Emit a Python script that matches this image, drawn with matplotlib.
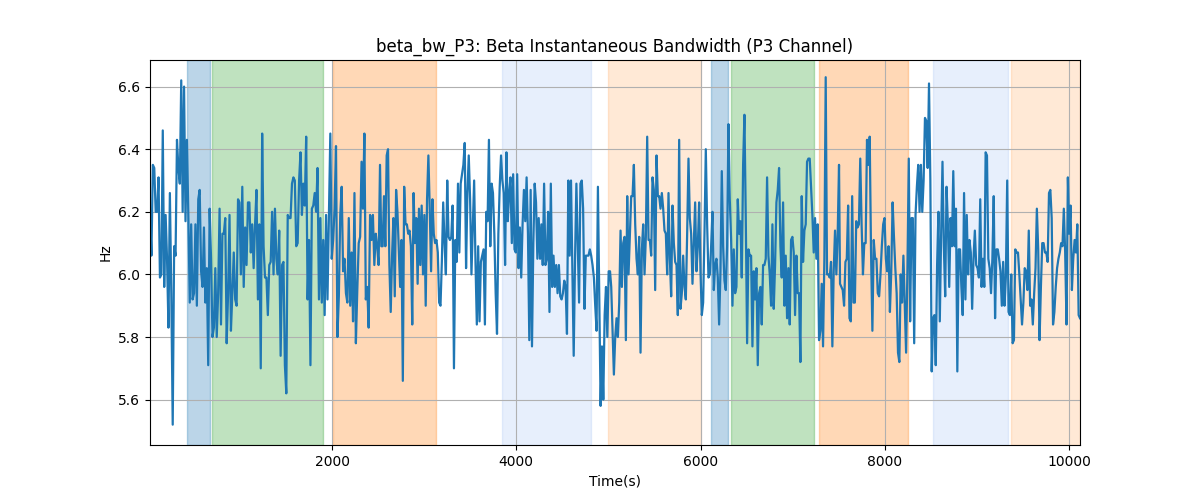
import numpy as np
import matplotlib
matplotlib.use("Agg")
import matplotlib.pyplot as plt

# beta bandwidth, in four stretches of the time axis
seg1 = [6.20, 6.06, 6.35, 6.34, 6.20, 6.20, 6.31, 5.99, 6.00, 6.46, 5.96, 6.19, 6.05, 5.83, 6.26, 5.94,
        5.52, 6.09, 6.06, 6.43, 6.34, 6.29, 6.62, 6.20, 6.60, 6.17, 6.43, 6.19, 5.91, 6.16, 5.92, 5.94,
        6.16, 5.90, 6.24, 6.27, 6.01, 5.96, 6.15, 5.91, 6.02, 5.71, 6.21, 6.05, 5.80, 5.83, 6.02, 5.80,
        5.94, 6.21, 5.84, 6.13, 6.13, 6.18, 5.78, 5.94, 6.19, 5.82, 5.94, 6.07, 5.92, 5.90, 6.24, 6.23,
        6.00, 6.28, 5.96, 6.15, 6.03, 6.23, 6.23, 6.07, 6.16, 6.02, 6.16, 6.27, 5.92, 6.16, 5.70, 6.45,
        6.09, 5.99, 5.99, 5.87, 6.03, 6.04, 6.20, 6.00, 6.21, 6.05, 6.00, 6.14, 5.74, 6.03, 6.04, 5.71,
        5.62, 6.19, 6.18, 6.18, 6.29, 6.31, 6.30, 6.09, 6.10, 6.30, 6.39, 6.19, 6.29, 6.22, 6.44, 5.92,
        6.11, 5.71, 6.21, 6.22, 6.26, 6.20, 6.34, 5.92, 6.18, 5.91, 6.11, 5.87, 6.19, 5.92, 6.19, 6.45,
        6.05, 6.11, 6.21, 6.41, 5.80, 5.93, 6.19, 6.28, 6.01, 6.05, 5.94, 5.91, 6.18, 5.90, 6.07, 5.85,
        6.26, 5.78, 5.95, 6.10, 6.12, 6.36, 6.21, 6.45, 5.92, 5.96, 5.83, 6.19, 6.11, 6.19, 6.03, 6.13,
        6.09, 6.03, 6.35]
seg2 = [6.09, 6.09, 6.25, 6.09, 6.38, 6.40, 6.03, 5.88, 6.06, 6.18, 5.93, 6.27, 6.20, 6.08, 5.96, 6.11,
        5.66, 6.28, 6.16, 6.16, 6.13, 6.14, 6.09, 5.84, 6.26, 6.10, 6.18, 5.97, 6.21, 6.03, 6.22, 6.00,
        6.19, 5.90, 6.24, 6.38, 6.21, 6.01, 6.24, 6.13, 6.10, 6.11, 6.07, 5.91, 5.90, 6.04, 6.23, 6.10,
        6.00, 6.30, 6.12, 6.11, 6.12, 6.22, 5.70, 6.11, 6.04, 6.29, 6.07, 6.29, 6.32, 6.35, 6.42, 6.02,
        6.26, 6.38, 6.24, 6.00, 6.15, 6.30, 6.04, 5.84, 6.09, 5.85, 6.04, 6.06, 6.08, 5.84, 6.20, 6.17,
        6.43, 6.09, 6.29, 6.26, 6.13, 5.94, 5.81, 6.13, 6.28, 6.38, 6.30, 6.26, 6.03, 6.39, 6.17, 6.26,
        6.31, 6.10, 6.32, 6.08, 6.07, 6.32, 6.02, 6.15, 5.99, 6.16, 6.27, 6.17, 6.31, 6.13, 5.79, 6.27,
        5.77, 6.10, 6.29, 6.23, 6.05, 6.18, 6.05, 6.16, 6.03, 6.29, 6.03, 6.05, 6.20, 5.88, 6.29, 5.96,
        6.06, 5.96, 6.03, 5.94, 6.03, 5.93, 5.92, 5.94, 5.98, 5.96, 5.81, 6.30, 6.06, 6.30, 6.01, 5.74,
        6.05, 6.29, 6.10, 5.91, 6.29, 6.30, 6.21, 5.89, 6.06, 6.06, 6.06, 6.08, 6.06, 6.03, 5.99, 5.90,
        5.82, 6.28, 5.92, 5.58, 5.77, 5.60, 5.87, 5.96, 5.80, 6.01, 6.01]
seg3 = [5.96, 5.82, 5.68, 5.80, 5.86, 5.80, 5.91, 6.14, 5.96, 6.10, 6.12, 5.79, 6.25, 6.00, 6.13, 6.25,
        6.25, 6.35, 6.16, 6.05, 6.00, 6.12, 5.75, 6.08, 6.16, 6.00, 6.12, 6.44, 6.11, 6.11, 6.06, 6.31,
        6.27, 5.95, 6.38, 6.25, 6.25, 6.21, 6.26, 6.21, 6.14, 6.13, 6.00, 6.26, 6.05, 5.93, 6.22, 6.10,
        6.04, 6.03, 5.87, 6.43, 5.89, 5.94, 6.06, 5.96, 5.92, 6.13, 6.37, 6.18, 6.13, 5.97, 6.10, 6.23,
        6.01, 6.09, 6.23, 6.01, 5.87, 5.91, 6.13, 6.40, 6.16, 5.99, 6.00, 6.09, 6.20, 5.95, 6.03, 6.05,
        5.99, 5.84, 6.01, 6.33, 6.09, 5.98, 5.95, 6.09, 6.48, 6.24, 6.11, 5.90, 6.08, 5.94, 5.96, 6.24,
        6.13, 6.17, 5.99, 6.35, 6.51, 6.18, 5.78, 6.08, 6.06, 6.06, 5.77, 6.01, 5.92, 6.02, 5.71, 5.94,
        5.96, 5.84, 6.03, 6.03, 6.05, 6.31, 6.06, 6.00, 5.90, 6.16, 5.89, 6.03, 6.23, 6.27, 6.34, 6.09,
        5.99, 6.23, 5.90, 6.06, 5.86, 6.02, 5.84, 6.11, 6.12, 6.07, 5.87, 6.06, 5.94, 5.94, 5.72, 6.25,
        6.04, 6.14, 6.16, 6.36, 6.37, 6.37, 6.28, 6.19, 6.07, 6.18, 6.05, 6.16, 5.79, 5.82, 5.97, 5.77,
        6.05, 6.63, 6.00, 6.00, 5.99, 6.04, 5.77, 6.01, 6.14, 6.00, 6.13, 6.35]
seg4 = [5.97, 5.96, 5.95, 5.90, 6.04, 6.05, 6.22, 5.86, 5.85, 6.25, 5.91, 5.91, 6.17, 6.15, 6.16, 6.37,
        6.16, 6.00, 6.10, 6.10, 6.43, 6.35, 6.44, 6.07, 5.82, 6.11, 6.05, 6.05, 5.94, 5.93, 6.00, 6.09,
        6.16, 6.18, 6.05, 6.01, 6.09, 5.88, 6.01, 6.23, 6.12, 6.02, 5.94, 5.75, 5.72, 6.00, 5.91, 6.06,
        5.90, 5.75, 6.02, 6.37, 5.85, 6.18, 6.18, 5.78, 6.19, 6.28, 6.35, 6.20, 6.35, 6.20, 6.30, 6.50,
        6.49, 6.34, 6.61, 6.30, 5.69, 5.86, 5.87, 5.71, 6.03, 6.20, 5.85, 6.13, 6.36, 6.09, 5.93, 6.28,
        6.16, 5.96, 6.18, 6.09, 6.33, 6.09, 6.21, 5.69, 6.08, 6.08, 5.96, 5.87, 6.26, 5.92, 6.19, 6.00,
        6.11, 6.07, 5.89, 6.05, 6.14, 6.03, 6.02, 5.99, 6.24, 5.96, 6.05, 5.96, 6.39, 6.38, 6.05, 6.02,
        5.94, 6.05, 6.25, 5.86, 6.08, 6.08, 6.05, 6.01, 5.90, 6.04, 5.90, 5.99, 6.30, 5.88, 5.87, 6.00,
        5.78, 5.79, 6.08, 6.07, 6.07, 6.00, 5.92, 5.84, 5.91, 6.02, 6.01, 5.95, 6.14, 5.90, 5.92, 5.84,
        5.94, 6.02, 6.21, 6.08, 5.79, 5.96, 6.10, 6.10, 6.07, 6.07, 6.04, 6.26, 6.27, 6.18, 5.84, 5.88,
        5.96, 6.02, 6.05, 6.07, 6.10, 6.09, 6.21, 6.07, 5.84, 6.31, 6.13, 6.22, 5.95, 6.05, 6.11, 6.07,
        6.16, 5.87, 5.86]
# start/end time of each stretch
seg_bounds = [(25, 2521), (2535, 5017), (5030, 7502), (7513, 10117)]

# shaded spans: (start, end, colour, alpha)
spans = [
    (427, 676, "tab:blue", 0.3),
    (698, 1902, "tab:green", 0.3),
    (2011, 3129, "tab:orange", 0.3),
    (3845, 4811, "cornflowerblue", 0.15),
    (4995, 6004, "tab:orange", 0.17),
    (6113, 6297, "tab:blue", 0.3),
    (6330, 7231, "tab:green", 0.3),
    (7285, 8251, "tab:orange", 0.3),
    (8522, 9336, "cornflowerblue", 0.15),
    (9369, 10117, "tab:orange", 0.17),
]

t = np.concatenate([np.linspace(a, b, len(s)) for (a, b), s in zip(seg_bounds, [seg1, seg2, seg3, seg4])])
y = np.concatenate([seg1, seg2, seg3, seg4])

fig, ax = plt.subplots(figsize=(12, 5), dpi=100)
for x0, x1, c, a in spans:
    ax.axvspan(x0, x1, color=c, alpha=a)
ax.plot(t, y, color="tab:blue", linewidth=1.6)
ax.set_xlim(t[0], t[-1])
ax.set_ylim(5.455, 6.685)
ax.grid(True)
ax.set_title("beta_bw_P3: Beta Instantaneous Bandwidth (P3 Channel)")
ax.set_xlabel("Time(s)")
ax.set_ylabel("Hz")
fig.savefig("out.png")
